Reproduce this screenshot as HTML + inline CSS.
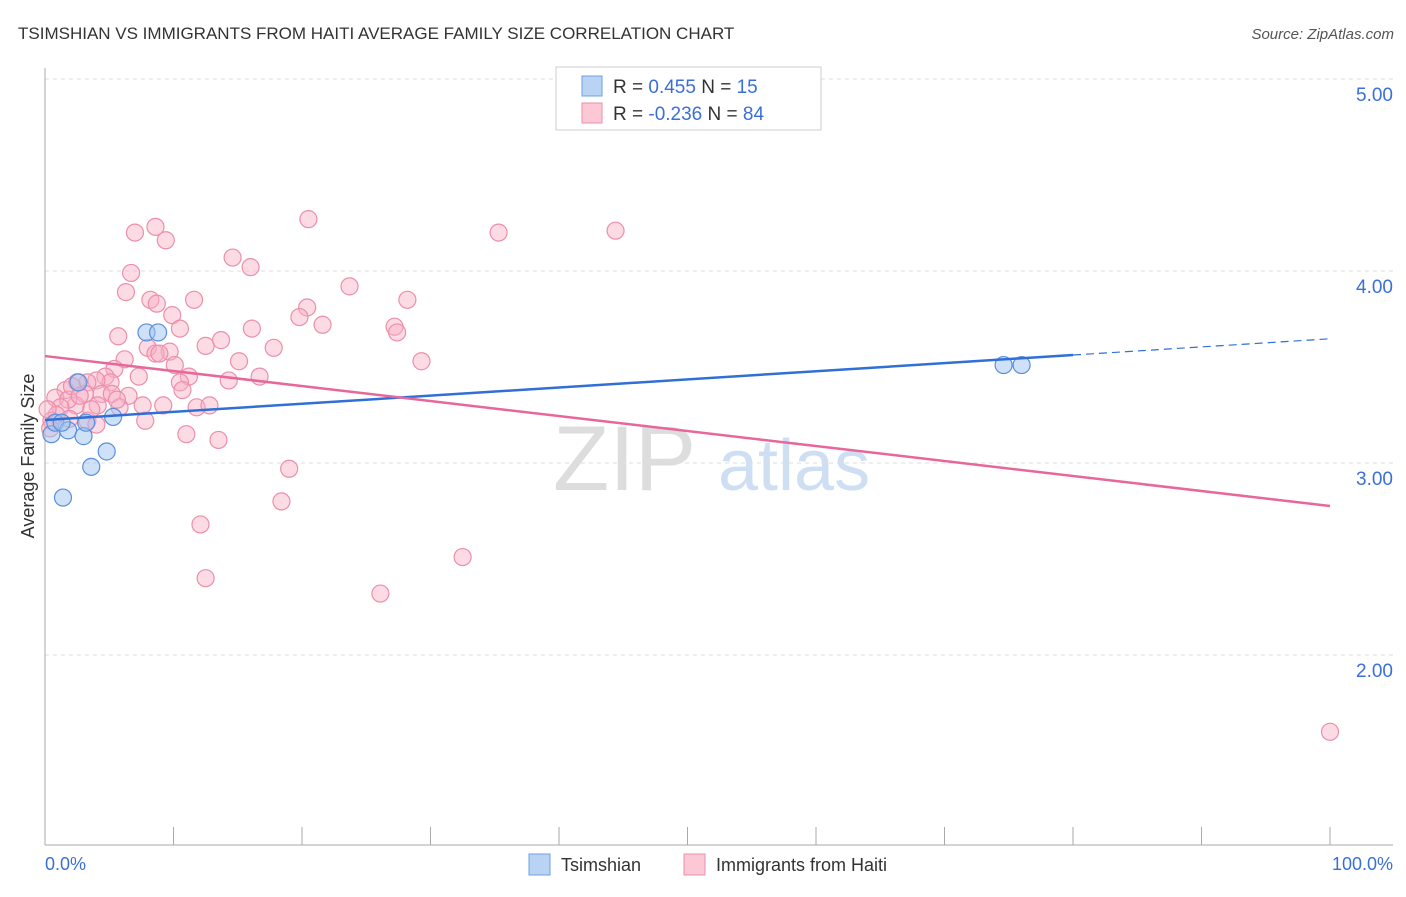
<!DOCTYPE html>
<html><head><meta charset="utf-8"><style>
body{margin:0;background:#fff;font-family:"Liberation Sans",sans-serif;}
svg text{font-family:"Liberation Sans",sans-serif;}
</style></head><body>
<svg id="c" width="1406" height="892">
<text x="18" y="39" font-size="17" fill="#333">TSIMSHIAN VS IMMIGRANTS FROM HAITI AVERAGE FAMILY SIZE CORRELATION CHART</text>
<text x="1394" y="39" font-size="15" fill="#555" font-style="italic" text-anchor="end">Source: ZipAtlas.com</text>
<g><text x="553" y="490" font-size="92" fill="#ddd" font-family="Liberation Serif">ZIP</text><text x="718" y="490" font-size="72" fill="#cfdff3">atlas</text></g>
<g id="grid"></g><g id="axes"></g><g id="marks"></g>
<text x="34" y="456" font-size="18" fill="#333" text-anchor="middle" transform="rotate(-90 34 456)">Average Family Size</text>
<text x="45" y="870" font-size="18" fill="#3a6fd8">0.0%</text>
<text x="1393" y="870" font-size="18" fill="#3a6fd8" text-anchor="end">100.0%</text>
<g>
<rect x="556" y="67" width="265" height="63" fill="#fff" stroke="#ccc"/>
<rect x="582" y="76" width="20" height="20" fill="#b9d3f5" stroke="#6f9fe0"/>
<text x="613" y="93" font-size="19" fill="#333">R = <tspan fill="#3a6fd8"> 0.455</tspan>   N = <tspan fill="#3a6fd8"> 15</tspan></text>
<rect x="582" y="103" width="20" height="20" fill="#fcc8d6" stroke="#e890aa"/>
<text x="613" y="120" font-size="19" fill="#333">R = <tspan fill="#3a6fd8">-0.236</tspan>   N = <tspan fill="#3a6fd8">84</tspan></text>
</g>
<g>
<rect x="529" y="854" width="21" height="21" fill="#b9d3f5" stroke="#6f9fe0"/>
<text x="561" y="871" font-size="18" fill="#333">Tsimshian</text>
<rect x="684" y="854" width="21" height="21" fill="#fcc8d6" stroke="#e890aa"/>
<text x="716" y="871" font-size="18" fill="#333">Immigrants from Haiti</text>
</g>
</svg>
<script>
const yTicks=[5,4,3,2];
const yTickLabels=["5.00","4.00","3.00","2.00"];
const xTicks=[10,20,30,40,50,60,70,80,90,100];
const blueX=[0.5,0.8,1.8,1.3,3.0,3.6,4.8,1.4,2.6,3.2,5.3,7.9,8.8,74.6,76.0];
const blueY=[3.15,3.21,3.17,3.21,3.14,2.98,3.06,2.82,3.42,3.21,3.24,3.68,3.68,3.51,3.51];
const pinkX=[7.0,8.6,9.4,6.7,6.3,8.2,8.7,9.9,11.6,14.6,16.0,20.5,35.3,44.4,23.7,28.2,20.4,19.8,21.6,27.2,27.4,29.3,5.7,10.5,13.7,16.1,17.8,12.5,8.0,9.7,8.6,8.9,6.2,10.1,5.4,15.1,11.2,7.3,16.7,14.3,10.5,4.7,5.1,4.0,3.3,2.5,1.6,3.1,4.4,6.5,5.2,2.4,0.8,1.8,10.7,9.2,11.8,12.8,7.6,5.8,4.1,1.2,0.9,0.5,1.9,3.3,4.0,7.8,11.0,13.5,19.0,18.4,12.1,32.5,12.5,26.1,100,0.2,0.4,2.1,3.6,5.6,2.7];
const pinkY=[4.20,4.23,4.16,3.99,3.89,3.85,3.83,3.77,3.85,4.07,4.02,4.27,4.20,4.21,3.92,3.85,3.81,3.76,3.72,3.71,3.68,3.53,3.66,3.70,3.64,3.70,3.60,3.61,3.60,3.58,3.57,3.57,3.54,3.51,3.49,3.53,3.45,3.45,3.45,3.43,3.42,3.45,3.42,3.43,3.42,3.42,3.38,3.36,3.36,3.35,3.36,3.30,3.34,3.33,3.38,3.30,3.29,3.30,3.30,3.29,3.30,3.29,3.25,3.22,3.23,3.22,3.20,3.22,3.15,3.12,2.97,2.80,2.68,2.51,2.40,2.32,1.60,3.28,3.18,3.40,3.28,3.33,3.35];
const blueTrend=[3.224,3.647];
const pinkTrend=[3.557,2.776];
const blueSolidEnd=80;
const NS="http://www.w3.org/2000/svg";
const X=v=>45+v*12.85;
const Y=v=>271-(v-4)*192;
function mk(tag,attrs,parent){const e=document.createElementNS(NS,tag);for(const k in attrs)e.setAttribute(k,attrs[k]);document.getElementById(parent).appendChild(e);return e;}
yTicks.forEach((t,i)=>{
 const l=mk('line',{x1:45,x2:1393,y1:Y(t),y2:Y(t),stroke:'#ddd','stroke-dasharray':'4,4'},'grid');
 
 
 const tx=mk('text',{x:1393,y:Y(t)+22,'font-size':19,fill:'#3a6fd8','text-anchor':'end'},'grid');
 tx.textContent=yTickLabels[i];
 
 
});
const ax=mk('line',{x1:45,x2:45,y1:68,y2:845,stroke:'#aaa'},'axes');


const bx=mk('line',{x1:45,x2:1393,y1:845,y2:845,stroke:'#aaa'},'axes');


xTicks.forEach(t=>{
 const l=mk('line',{x1:X(t),x2:X(t),y1:827,y2:845,stroke:'#aaa'},'axes');
 
 
});
pinkX.forEach((x,i)=>{
 const c=mk('circle',{cx:X(x),cy:Y(pinkY[i]),r:8.5,fill:'rgba(248,176,198,0.45)',stroke:'#eb8fab','stroke-width':1.2},'marks');
 
 
});
blueX.forEach((x,i)=>{
 const c=mk('circle',{cx:X(x),cy:Y(blueY[i]),r:8.5,fill:'rgba(160,196,240,0.5)',stroke:'#5b8fde','stroke-width':1.2},'marks');
 
 
});
const bAt=v=>blueTrend[0]+(blueTrend[1]-blueTrend[0])*v/100;
const t1=mk('line',{x1:X(0),y1:Y(bAt(0)),x2:X(blueSolidEnd),y2:Y(bAt(blueSolidEnd)),stroke:'#2f6fd6','stroke-width':2.5},'marks');


const t2=mk('line',{x1:X(blueSolidEnd),y1:Y(bAt(blueSolidEnd)),x2:X(100),y2:Y(bAt(100)),stroke:'#2f6fd6','stroke-width':1.2,'stroke-dasharray':'8,5'},'marks');


const t3=mk('line',{x1:X(0),y1:Y(pinkTrend[0]),x2:X(100),y2:Y(pinkTrend[1]),stroke:'#e8679a','stroke-width':2.5},'marks');


</script>
</body></html>
